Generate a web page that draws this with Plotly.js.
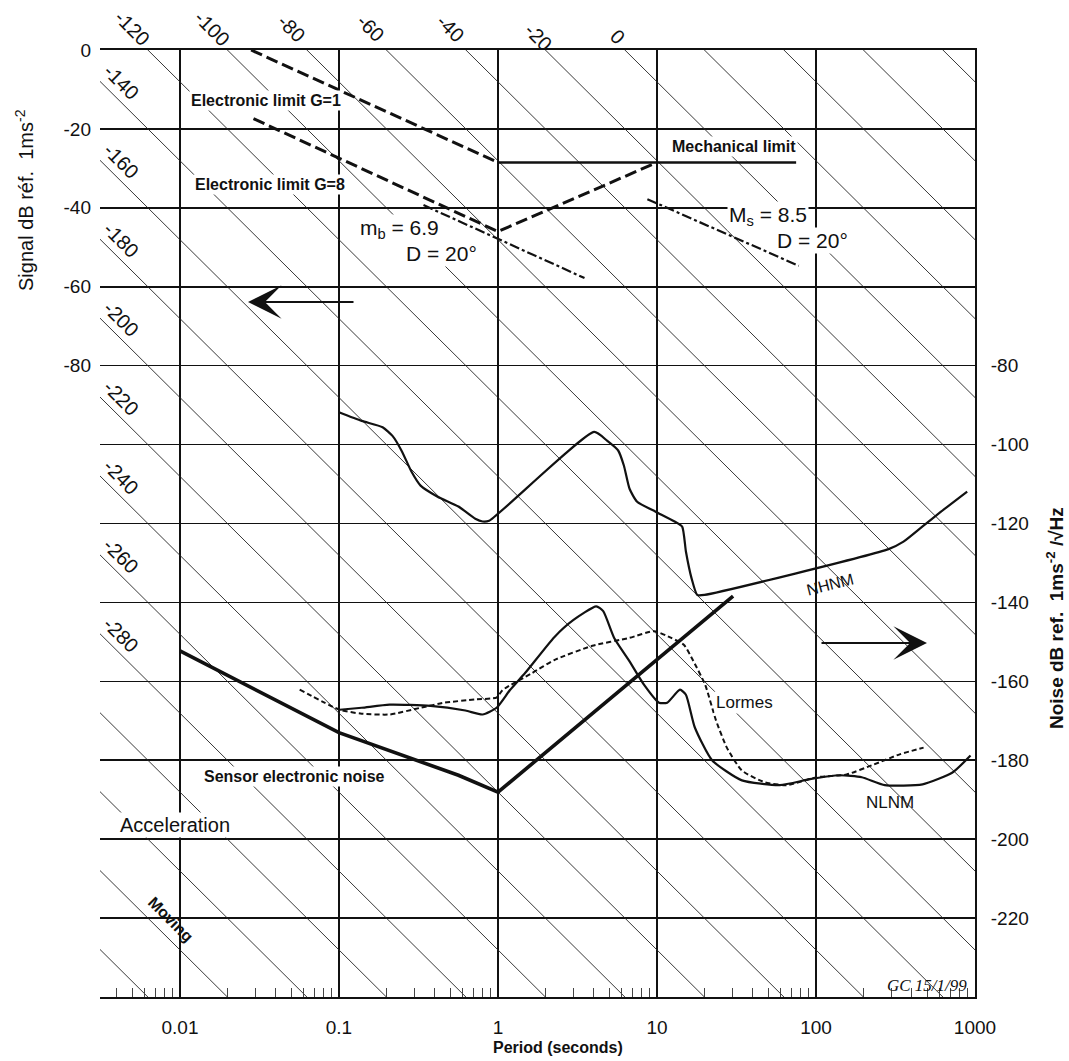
<!DOCTYPE html>
<html><head><meta charset="utf-8">
<script src="https://cdn.plot.ly/plotly-3.0.1.min.js"></script>
<style>html,body{margin:0;padding:0;background:#fff}#chart{width:1069px;height:1061px}</style>
</head><body><div id="chart"></div>
<script>
// ---------------- data ----------------
const periodTicks = [0.01, 0.1, 1, 10, 100, 1000];
const periodTickText = ['0.01', '0.1', '1', '10', '100', '1000'];
const signalTicks = [0, -20, -40, -60, -80];
const noiseTicks = [-80, -100, -120, -140, -160, -180, -200, -220];
const minorMult = [2, 3, 4, 5, 6, 7, 8, 9];
const minorDecades = [0.001, 0.01, 0.1, 1, 10, 100];

// constant-displacement lines (dB), labels
const displacementLines = [-360, -340, -320, -300, -280, -260, -240, -220, -200, -180, -160, -140, -120, -100, -80, -60, -40, -20, 0, 20, 40, 60, 80];
const displacementTopLabels = [-120, -100, -80, -60, -40, -20, 0];
const displacementLeftLabels = [-140, -160, -180, -200, -220, -240, -260, -280];

// Electronic limit G=1 (dashed)
const elecG1T = [0.028, 1];
const elecG1dB = [0, -28.5];
// Mechanical limit (solid)
const mechT = [1, 75];
const mechdB = [-28.5, -28.5];
// Electronic limit G=8 + mechanical limit rise (dashed)
const elecG8T = [0.029, 1, 10];
const elecG8dB = [-17.4, -46, -28.5];
// mb = 6.9 , D = 20deg (dash-dot)
const mbT = [0.34, 3.5];
const mbdB = [-39.3, -57.8];
// Ms = 8.5 , D = 20deg (dash-dot)
const msT = [8.7, 78];
const msdB = [-37.8, -54.7];

// NHNM
const nhnmT = [0.1, 0.139, 0.188, 0.217, 0.248, 0.286, 0.326, 0.417, 0.564, 0.72, 0.80, 0.88, 4.03, 4.85, 5.70, 6.19, 6.72, 7.50, 9.8, 12.9, 14.4, 15.2, 16.5, 17.9, 19.9, 286, 355, 466, 611, 893];
const nhnmdB = [-91.8, -94.0, -95.6, -97.8, -101.6, -106.9, -110.4, -113.2, -115.7, -118.8, -119.5, -119.3, -96.8, -99.0, -101.5, -105.3, -111.2, -114.5, -117.0, -119.5, -120.8, -127.1, -133.9, -138.1, -138.1, -126.5, -124.6, -120.8, -117.0, -111.9];

// NLNM
const nlnmT = [0.101, 0.139, 0.208, 0.376, 0.624, 0.80, 0.98, 1.19, 1.48, 2.26, 2.97, 4.15, 4.59, 5.38, 6.69, 8.30, 10.3, 11.6, 13.95, 15.2, 17.3, 22.2, 34.2, 59.3, 91.5, 141, 194, 271, 468, 722, 937];
const nlnmdB = [-167.2, -166.7, -165.9, -166.2, -167.4, -168.4, -166.7, -162.2, -157.9, -148.8, -144.5, -141.0, -142.2, -149.0, -154.8, -160.9, -165.4, -165.4, -162.1, -163.4, -171.7, -180.0, -185.1, -186.3, -184.8, -183.8, -184.3, -186.3, -186.1, -183.1, -178.8];

// Lormes (dashed)
const lormesT = [0.0566, 0.101, 0.139, 0.208, 0.326, 0.461, 0.721, 0.98, 1.07, 1.64, 2.26, 3.92, 6.69, 9.6, 12.3, 14.8, 16.9, 20.1, 23.5, 27.5, 34.2, 47.7, 65.6, 101, 156, 230, 336, 475];
const lormesdB = [-162.1, -167.2, -168.2, -168.4, -166.7, -165.4, -164.6, -164.1, -162.2, -157.9, -154.6, -151.0, -149.0, -147.3, -149.0, -150.8, -154.8, -160.9, -169.9, -176.8, -182.6, -185.6, -186.3, -184.3, -183.6, -181.1, -178.5, -176.8];

// Sensor electronic noise (thick)
const sensorT = [0.01, 0.1, 0.564, 1, 30.1];
const sensordB = [-152.3, -173.0, -183.8, -188.1, -138.4];

// ---------------- drawing ----------------
const INK = '#111';
const FONT = 'Liberation Sans, Arial, Helvetica, sans-serif';
const K = 40 * Math.log10(2 * Math.PI); // acceleration = displacement + K - 40 log10(T)

// diagonal constant-displacement lines
const diagX = [], diagY = [];
displacementLines.forEach(D => {
  diagX.push(Math.pow(10, -3.2), Math.pow(10, 3.8), null);
  diagY.push(D + K + 40 * 3.2, D + K - 40 * 3.8, null);
});

const minorTicks = [];
minorDecades.forEach(d => minorMult.forEach(m => minorTicks.push(d * m)));

function line(x, y, w, dash, shape) {
  return {x: x, y: y, type: 'scatter', mode: 'lines', hoverinfo: 'skip',
          line: {color: INK, width: w, dash: dash || 'solid', shape: shape || 'linear', smoothing: 0.55}};
}

const traces = [
  line(diagX, diagY, 0.9, 'solid'),
  line(elecG1T, elecG1dB, 3, '12px,5px'),
  line(mechT, mechdB, 2.5),
  line(elecG8T, elecG8dB, 3, '12px,5px'),
  line(mbT, mbdB, 2.2, '10px,3px,3px,3px'),
  line(msT, msdB, 2.2, '10px,3px,3px,3px'),
  line(nhnmT, nhnmdB, 2.2, 'solid', 'spline'),
  line(nlnmT, nlnmdB, 2.2, 'solid', 'spline'),
  line(lormesT, lormesdB, 2, '5px,3px', 'spline'),
  line(sensorT, sensordB, 3.6),
  {x: [0.01], y: [-240], type: 'scatter', mode: 'markers', marker: {opacity: 0}, yaxis: 'y2', hoverinfo: 'skip'}
];
traces[0].line.color = '#222';

// pixel helpers for label placement
const L = 100, T = 50, W = 875, H = 947;
function ann(text, px, py, o) {
  return Object.assign({text: text, xref: 'paper', yref: 'paper',
    x: (px - L) / W, y: (T + H - py) / H, xanchor: 'center', yanchor: 'middle',
    showarrow: false, font: {family: FONT, size: 16, color: INK}}, o || {});
}
const xr = [-2.503, 3];
function pxOfLog(lt) { return L + (lt - xr[0]) / (xr[1] - xr[0]) * W; }
function pyOfdB(db) { return T + (0 - db) / 240 * H; }

const annotations = [];
const diagFont = {family: FONT, size: 20, color: INK};
// top displacement labels
displacementTopLabels.forEach(D => {
  const a = D >= -20 ? 3.3 : 5.5;
  const lt = (D + K - a) / 40;
  annotations.push(ann(String(D), pxOfLog(lt) + 6, pyOfdB(a), {textangle: 45, font: diagFont}));
});
// left displacement labels
displacementLeftLabels.forEach(D => {
  const lt = -2.37;
  const a = D + K - 40 * lt;
  annotations.push(ann(String(D), pxOfLog(lt), pyOfdB(a) - 20, {textangle: 45, font: diagFont}));
});

const bold16 = {family: FONT, size: 16, color: INK, weight: 'bold'};
const white = {bgcolor: '#fff', borderpad: 1};
const big = {family: FONT, size: 21, color: INK};
annotations.push(
  ann('Electronic limit G=1', 266, 100, Object.assign({font: bold16}, white)),
  ann('Electronic limit G=8', 270, 185, Object.assign({font: bold16}, white)),
  ann('Mechanical limit', 734, 146, Object.assign({font: bold16}, white)),
  ann('m<sub>b</sub> = 6.9', 399, 229, Object.assign({font: big}, white)),
  ann('D = 20°', 441, 254, Object.assign({font: big}, white)),
  ann('M<sub>s</sub> = 8.5', 768, 216, Object.assign({font: big}, white)),
  ann('D = 20°', 812, 240, Object.assign({font: big}, white)),
  ann('NHNM', 830, 584, {textangle: -14, font: {family: FONT, size: 16, color: INK}}),
  ann('Lormes', 744, 702, Object.assign({font: {family: FONT, size: 17, color: INK}}, white)),
  ann('NLNM', 890, 802, {font: {family: FONT, size: 17, color: INK}}),
  ann('Sensor electronic noise', 294, 776, Object.assign({font: bold16}, white)),
  ann('Acceleration', 175, 825, Object.assign({font: {family: FONT, size: 20, color: INK}}, white)),
  ann('Moving', 171, 919, {textangle: 45, font: {family: FONT, size: 16, color: INK, weight: 'bold'}}),
  ann('GC 15/1/99', 927, 985, {font: {family: 'Liberation Serif, serif', size: 17, color: INK, style: 'italic'}}),
  // axis titles
  ann('Signal dB réf.  1ms<sup>-2</sup>', 24, 200, {textangle: -90, font: {family: FONT, size: 20, color: INK}}),
  ann('Noise dB ref.  1ms<sup>-2</sup> /√Hz', 1055, 618, {textangle: -90, font: {family: FONT, size: 19, color: INK, weight: 'bold'}}),
  ann('Period (seconds)', 558, 1047, {font: bold16}),
  // arrows
  {xref: 'paper', yref: 'paper', x: (248 - L) / W, y: (T + H - 302) / H, ax: 107, ay: 0, text: '',
   showarrow: true, arrowhead: 3, arrowsize: 2.8, arrowwidth: 2, arrowcolor: INK},
  {xref: 'paper', yref: 'paper', x: (927 - L) / W, y: (T + H - 643) / H, ax: -107, ay: 0, text: '',
   showarrow: true, arrowhead: 3, arrowsize: 2.8, arrowwidth: 2, arrowcolor: INK}
);

const layout = {
  width: 1069, height: 1061,
  margin: {l: L, r: 1069 - L - W, t: T, b: 1061 - T - H, pad: 0},
  paper_bgcolor: '#fff', plot_bgcolor: '#fff', showlegend: false,
  font: {family: FONT, color: INK, size: 18},
  xaxis: {type: 'log', range: xr, tickvals: periodTicks, ticktext: periodTickText,
    showgrid: true, gridcolor: INK, gridwidth: 2, ticks: '', zeroline: false,
    showline: true, linecolor: INK, linewidth: 2, mirror: true,
    ticklabelstandoff: 12, tickfont: {size: 19},
    minor: {tickvals: minorTicks, ticks: 'inside', ticklen: 9, tickwidth: 1, tickcolor: '#444', showgrid: false}},
  yaxis: {range: [-240, 0], tickvals: signalTicks, ticktext: signalTicks.map(String),
    showgrid: true, gridcolor: INK, gridwidth: 1.6, ticks: '', zeroline: false, showline: false,
    ticklabelstandoff: 8, tickfont: {size: 19}},
  yaxis2: {overlaying: 'y', side: 'right', range: [-240, 0], tickvals: noiseTicks,
    ticktext: noiseTicks.map(String), showgrid: true, gridcolor: INK, gridwidth: 1.6, zeroline: false, ticks: '',
    showline: true, linecolor: INK, linewidth: 2, ticklabelstandoff: 10, tickfont: {size: 19}},
  annotations: annotations
};

Plotly.newPlot('chart', traces, layout, {staticPlot: true, displayModeBar: false});
</script></body></html>
